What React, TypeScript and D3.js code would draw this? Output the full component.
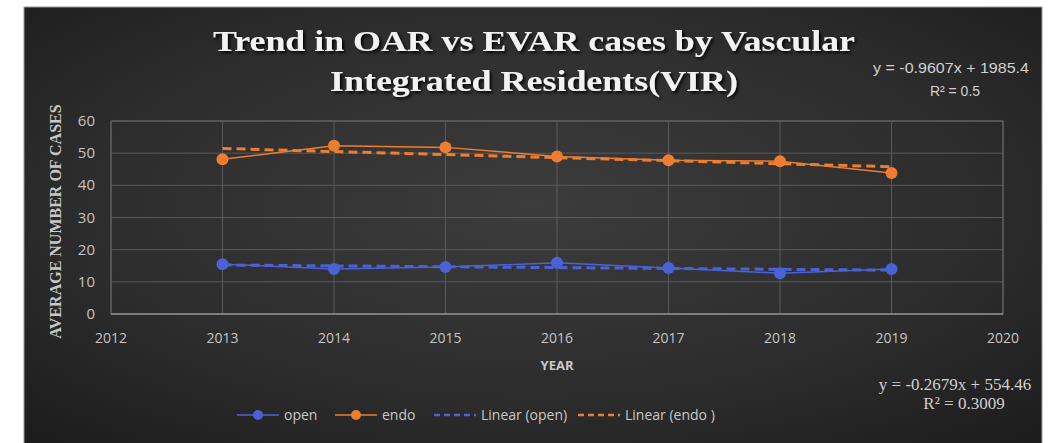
import React from "react";
import { scaleLinear, line } from "d3";

const years = [2013, 2014, 2015, 2016, 2017, 2018, 2019];
const openCases = [15.5, 14.0, 14.6, 15.9, 14.3, 12.7, 14.0];
const endoCases = [48.1, 52.3, 51.8, 49.0, 47.8, 47.5, 43.8];
const xTicks = [2012, 2013, 2014, 2015, 2016, 2017, 2018, 2019, 2020];
const yTicks = [0, 10, 20, 30, 40, 50, 60];

const BLUE = "#4a62d6";
const ORANGE = "#ed7d31";

// least squares fit, used for the "Linear (...)" trend lines
const fit = (xs: number[], ys: number[]) => {
  const mx = xs.reduce((a, b) => a + b, 0) / xs.length;
  const my = ys.reduce((a, b) => a + b, 0) / ys.length;
  let num = 0, den = 0;
  xs.forEach((x, i) => { num += (x - mx) * (ys[i] - my); den += (x - mx) ** 2; });
  const slope = num / den;
  return (x: number) => my + slope * (x - mx);
};

const App = () => {
  const width = 1054, height = 443;
  const left = 111, right = 1003, top = 121, bottom = 314;

  const xScale = scaleLinear().domain([2012, 2020]).range([left, right]);
  const yScale = scaleLinear().domain([0, 60]).range([bottom, top]);

  const path = line<number>()
    .x((_, i) => xScale(years[i]))
    .y(d => yScale(d));

  const openFit = fit(years, openCases);
  const endoFit = fit(years, endoCases);
  const trendPath = (f: (x: number) => number) => {
    const a = years[0], b = years[years.length - 1];
    return `M${xScale(a)},${yScale(f(a))}L${xScale(b)},${yScale(f(b))}`;
  };

  const series = [
    { name: "open", values: openCases, color: BLUE },
    { name: "endo", values: endoCases, color: ORANGE },
  ];

  const legend = [
    { label: "open", color: BLUE, dashed: false, x: 237 },
    { label: "endo", color: ORANGE, dashed: false, x: 335 },
    { label: "Linear (open)", color: BLUE, dashed: true, x: 434 },
    { label: "Linear (endo )", color: ORANGE, dashed: true, x: 578 },
  ];

  const sans = "'Open Sans', 'Liberation Sans', sans-serif";
  const serif = "'Liberation Serif', 'DejaVu Serif', serif";

  return (
    <div style={{ position: "absolute", left: 0, top: 0 }}>
      <svg width={width} height={height} viewBox={`0 0 ${width} ${height}`}>
        <defs>
          <radialGradient id="bg" cx="0.5" cy="0.45" r="0.75">
            <stop offset="0" stopColor="#3c3c3c" />
            <stop offset="0.6" stopColor="#2c2c2c" />
            <stop offset="1" stopColor="#1b1b1b" />
          </radialGradient>
          <filter id="shadow" x="-10%" y="-30%" width="120%" height="160%">
            <feDropShadow dx="2" dy="2" stdDeviation="1.5" floodColor="#000" floodOpacity="0.9" />
          </filter>
        </defs>
        <rect width={width} height={height} fill="#fff" />
        <rect x={24} y={7} width={1018} height={440} fill="url(#bg)" stroke="#9a9a9a" strokeWidth={1} />

        {/* title */}
        <g fill="#f2f2f2" fontFamily={serif} fontWeight="bold" fontSize={30} textAnchor="middle" filter="url(#shadow)">
          <text x={534} y={51} textLength={642} lengthAdjust="spacingAndGlyphs">Trend in OAR vs EVAR cases by Vascular</text>
          <text x={534} y={91} textLength={408} lengthAdjust="spacingAndGlyphs">Integrated Residents(VIR)</text>
        </g>

        {/* gridlines */}
        {yTicks.map(t => (
          <line key={"gy" + t} x1={left} x2={right} y1={yScale(t)} y2={yScale(t)} stroke="#5a5a5a" strokeWidth={1} />
        ))}
        {xTicks.map(t => (
          <line key={"gx" + t} x1={xScale(t)} x2={xScale(t)} y1={top} y2={bottom} stroke="#5a5a5a" strokeWidth={1} />
        ))}
        <rect x={left} y={top} width={right - left} height={bottom - top} fill="none" stroke="#666" strokeWidth={1} />
        <line x1={left} x2={right} y1={bottom} y2={bottom} stroke="#8a8a8a" strokeWidth={1.5} />

        {/* tick labels */}
        {yTicks.map(t => (
          <text key={"ty" + t} x={95} y={yScale(t) + 5} textAnchor="end" fill="#c4c4c4" fontFamily={sans} fontSize={15}>{t}</text>
        ))}
        {xTicks.map(t => (
          <text key={"tx" + t} x={xScale(t)} y={343} textAnchor="middle" fill="#c4c4c4" fontFamily={sans} fontSize={14}>{t}</text>
        ))}

        {/* axis titles */}
        <text transform={`translate(61,${(top + bottom) / 2 + 4}) rotate(-90)`} textAnchor="middle" fill="#c8c8c8"
          fontFamily={serif} fontWeight="bold" fontSize={16}>AVERAGE NUMBER OF CASES</text>
        <text x={557} y={370} textAnchor="middle" fill="#c8c8c8" fontFamily={sans} fontWeight="bold" fontSize={13}>YEAR</text>

        {/* series */}
        {series.map(s => (
          <path key={s.name} d={path(s.values) || ""} fill="none" stroke={s.color} strokeWidth={1.5} />
        ))}
        <path d={trendPath(openFit)} fill="none" stroke={BLUE} strokeWidth={3} strokeDasharray="9,5" />
        <path d={trendPath(endoFit)} fill="none" stroke={ORANGE} strokeWidth={3} strokeDasharray="9,5" />
        {series.map(s => s.values.map((v, i) => (
          <circle key={s.name + i} cx={xScale(years[i])} cy={yScale(v)} r={6} fill={s.color} />
        )))}

        {/* trend equations */}
        <g fill="#d0d0d0" fontFamily="'Liberation Sans', sans-serif" fontSize={14} textAnchor="middle">
          <text x={951} y={73} textLength={156} lengthAdjust="spacingAndGlyphs">y = -0.9607x + 1985.4</text>
          <text x={955} y={96}>R² = 0.5</text>
        </g>
        <g fill="#d0d0d0" fontFamily={serif} fontSize={17} textAnchor="middle">
          <text x={955} y={390}>y = -0.2679x + 554.46</text>
          <text x={964} y={409}>R² = 0.3009</text>
        </g>

        {/* legend */}
        {legend.map(l => (
          <g key={l.label} transform={`translate(${l.x},415)`}>
            <line x1={0} x2={42} y1={0} y2={0} stroke={l.color} strokeWidth={l.dashed ? 2.5 : 1.5}
              strokeDasharray={l.dashed ? "6,4" : undefined} />
            {!l.dashed && <circle cx={21} cy={0} r={5} fill={l.color} />}
            <text x={47} y={5} fill="#c8c8c8" fontFamily={sans} fontSize={14}>{l.label}</text>
          </g>
        ))}
      </svg>
    </div>
  );
};

export default App;
